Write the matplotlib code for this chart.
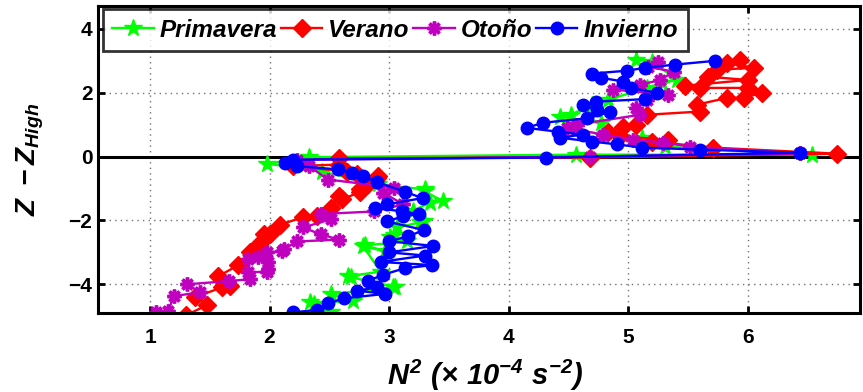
import matplotlib
matplotlib.use("Agg")
import matplotlib.pyplot as plt

plt.rcParams['font.family'] = ['Liberation Sans', 'DejaVu Sans']
plt.rcParams['mathtext.fontset'] = 'custom'
plt.rcParams['mathtext.it'] = 'Liberation Sans:italic:bold'
plt.rcParams['mathtext.rm'] = 'Liberation Sans:italic:bold'
plt.rcParams['mathtext.bf'] = 'Liberation Sans:italic:bold'
plt.rcParams['mathtext.sf'] = 'Liberation Sans:italic:bold'

# Stratification profiles N^2 (x 1e-4 s^-2) against height relative to Z_High
primavera_n2 = [2.36, 2.51, 2.37, 2.34, 2.70, 2.51, 3.05, 3.03, 2.68, 2.66, 2.93, 2.78, 2.97,
                2.80, 3.15, 3.01, 3.04, 3.07, 3.26, 3.29, 3.20, 3.34, 3.45, 3.30, 3.30, 2.91,
                2.44, 1.98, 2.33,
                4.56, 6.54, 5.31, 5.12, 4.79, 4.77, 4.43, 4.52, 4.70, 4.83, 5.16, 5.28, 5.41,
                5.20, 5.07]
primavera_z = [-4.94, -4.88, -4.63, -4.57, -4.53, -4.31, -4.09, -4.07, -3.78, -3.75, -3.60, -2.80,
               -2.97, -2.78, -2.66, -2.53, -2.47, -2.22, -2.06, -2.03, -1.70, -1.44, -1.40, -1.09,
               -1.03, -0.87, -0.47, -0.22, -0.02,
               0.06, 0.06, 0.31, 0.59, 0.63, 1.06, 1.25, 1.31, 1.63, 1.78, 2.15, 2.31, 2.40,
               2.97, 3.03]

verano_n2 = [1.30, 1.48, 1.38, 1.60, 1.67, 1.57, 1.74, 1.84, 1.92, 1.95, 2.00, 2.09, 2.28,
             2.40, 2.51, 2.58, 2.61, 2.76, 2.76, 2.82, 2.91, 2.90, 2.73, 2.65, 2.20, 2.58,
             2.58,
             4.68, 6.75, 5.71, 5.20, 5.33, 4.93, 4.83, 4.96, 5.07, 5.16, 5.60, 5.58, 5.83,
             5.97, 6.12, 6.00, 5.60, 5.48, 6.00, 5.67, 5.74, 6.05, 5.83, 5.94]
verano_z = [-4.97, -4.65, -4.40, -4.10, -4.05, -3.75, -3.40, -3.00, -2.70, -2.44, -2.44, -2.13,
            -1.90, -1.87, -1.60, -1.25, -1.34, -1.10, -1.03, -0.87, -0.62, -0.66, -0.56, -0.47,
            -0.30, -0.25, -0.05,
            -0.03, 0.09, 0.28, 0.47, 0.53, 0.63, 0.78, 0.94, 1.00, 1.31, 1.41, 1.63, 1.84,
            1.84, 2.00, 2.15, 2.15, 2.22, 2.40, 2.50, 2.72, 2.78, 2.94, 3.03]

otono_n2 = [1.05, 1.15, 1.20, 1.42, 1.31, 1.66, 1.84, 1.82, 1.98, 1.99, 1.99, 1.82, 1.90,
            1.98, 2.10, 2.12, 2.23, 2.58, 2.43, 2.28, 2.51, 2.43, 2.87, 3.12, 2.95, 3.04,
            2.49, 2.33, 2.23,
            4.68, 6.44, 5.52, 5.29, 5.04, 4.79, 4.49, 4.54, 4.57, 5.10, 5.07, 5.16, 5.33,
            4.87, 5.10, 5.27, 5.38, 5.17, 5.25]
otono_z = [-4.88, -4.85, -4.37, -4.25, -4.00, -3.90, -3.84, -3.63, -3.60, -3.53, -3.30, -3.20,
           -3.16, -3.00, -2.97, -2.90, -2.66, -2.60, -2.44, -2.22, -1.97, -1.80, -1.72, -1.50,
           -1.13, -0.97, -0.72, -0.30, -0.10,
           0.00, 0.10, 0.31, 0.44, 0.53, 0.69, 0.90, 0.94, 1.00, 1.31, 1.53, 1.78, 1.94,
           2.10, 2.25, 2.40, 2.66, 2.81, 2.97]

invierno_n2 = [2.20, 2.40, 2.49, 2.62, 2.97, 2.73, 2.90, 2.82, 2.95, 3.13, 3.36, 2.93, 3.30,
               3.00, 3.37, 3.00, 3.16, 3.29, 2.98, 3.12, 3.25, 3.11, 2.88, 2.98, 3.28, 3.13,
               2.90, 2.78, 2.69, 2.57, 2.23, 2.13, 2.20,
               4.31, 6.44, 5.60, 5.12, 4.91, 4.70, 4.43, 4.62, 4.41, 4.15, 4.29, 4.66, 4.85,
               4.74, 4.62, 4.73, 5.14, 5.24, 5.02, 4.96, 4.77, 4.70, 4.99, 5.14, 5.39, 5.73]
invierno_z = [-4.88, -4.80, -4.60, -4.44, -4.30, -4.20, -4.10, -3.90, -3.70, -3.50, -3.40, -3.30,
              -3.10, -3.00, -2.80, -2.65, -2.50, -2.30, -2.03, -1.87, -1.80, -1.72, -1.60, -1.50,
              -1.30, -1.10, -0.80, -0.62, -0.50, -0.40, -0.30, -0.20, -0.10,
              -0.03, 0.12, 0.22, 0.28, 0.38, 0.47, 0.59, 0.69, 0.78, 0.90, 1.06, 1.20, 1.40,
              1.47, 1.60, 1.72, 1.80, 2.00, 2.15, 2.35, 2.47, 2.60, 2.69, 2.78, 2.88, 3.00]

labels = ['Primavera', 'Verano', 'Otoño', 'Invierno']
x_ticks = [1, 2, 3, 4, 5, 6]
y_ticks = [-4, -2, 0, 2, 4]

fig = plt.figure(figsize=(8.63, 3.92), dpi=100)
ax = fig.add_axes([0.1136, 0.2015, 0.8829, 0.7835])

ax.axhline(0, color='black', lw=2.2, zorder=1.8)

ax.plot(primavera_n2, primavera_z, '-', color=(0, 1, 0), lw=1.7, marker='*',
        ms=13, mec=(0, 1, 0), mfc=(0, 1, 0), label=labels[0], zorder=2)
ax.plot(verano_n2, verano_z, '-', color=(1, 0, 0), lw=1.7, marker='D',
        ms=9.5, mec=(1, 0, 0), mfc=(1, 0, 0), label=labels[1], zorder=2.1)
ax.plot(otono_n2, otono_z, '-', color=(0.75, 0, 0.75), lw=1.7, marker=(8, 2, 0),
        ms=10, mew=2.5, mec=(0.75, 0, 0.75), mfc=(0.75, 0, 0.75), label=labels[2], zorder=2.2)
ax.plot(invierno_n2, invierno_z, '-', color=(0, 0, 1), lw=1.7, marker='o',
        ms=9, mec=(0, 0, 1), mfc=(0, 0, 1), label=labels[3], zorder=2.3)

ax.set_xlim(0.565, 6.94)
ax.set_ylim(-4.9, 4.72)
ax.set_xticks(x_ticks)
ax.set_yticks(y_ticks)
ax.set_xticklabels([str(v) for v in x_ticks])
ax.set_yticklabels([str(v).replace('-', '\u2212') for v in y_ticks])

ax.grid(True, color=(0.45, 0.45, 0.45), linestyle=(0, (1, 3)), linewidth=1.0)
ax.set_axisbelow(True)

for s in ax.spines.values():
    s.set_linewidth(2.2)
ax.tick_params(direction='in', length=5, width=2, top=True, right=True, labelsize=15)
ax.tick_params(axis='x', pad=11)
ax.tick_params(axis='y', pad=4)
for lab in ax.get_xticklabels() + ax.get_yticklabels():
    lab.set_fontweight('bold')

ax.set_xlabel(r'$N^2\ (\times\ 10^{-4}\ s^{-2})$', fontsize=21)
ax.xaxis.set_label_coords(0.509, -0.145)
ax.xaxis.label.set_va('top')
ax.set_ylabel(r'$Z\ -Z_{High}$', fontsize=20)
ax.yaxis.set_label_coords(-0.068, 0.5)

leg = ax.legend(loc='upper left', bbox_to_anchor=(0.006, 0.99), ncol=4,
                borderaxespad=0, frameon=True, fancybox=False, handlelength=1.7,
                handletextpad=0.25, columnspacing=0.15, borderpad=0.4,
                prop={'size': 17.5, 'weight': 'bold', 'style': 'italic'})
leg.get_frame().set_edgecolor('black')
leg.get_frame().set_linewidth(2)
leg.set_zorder(5)

fig.savefig('out.png', dpi=100)
